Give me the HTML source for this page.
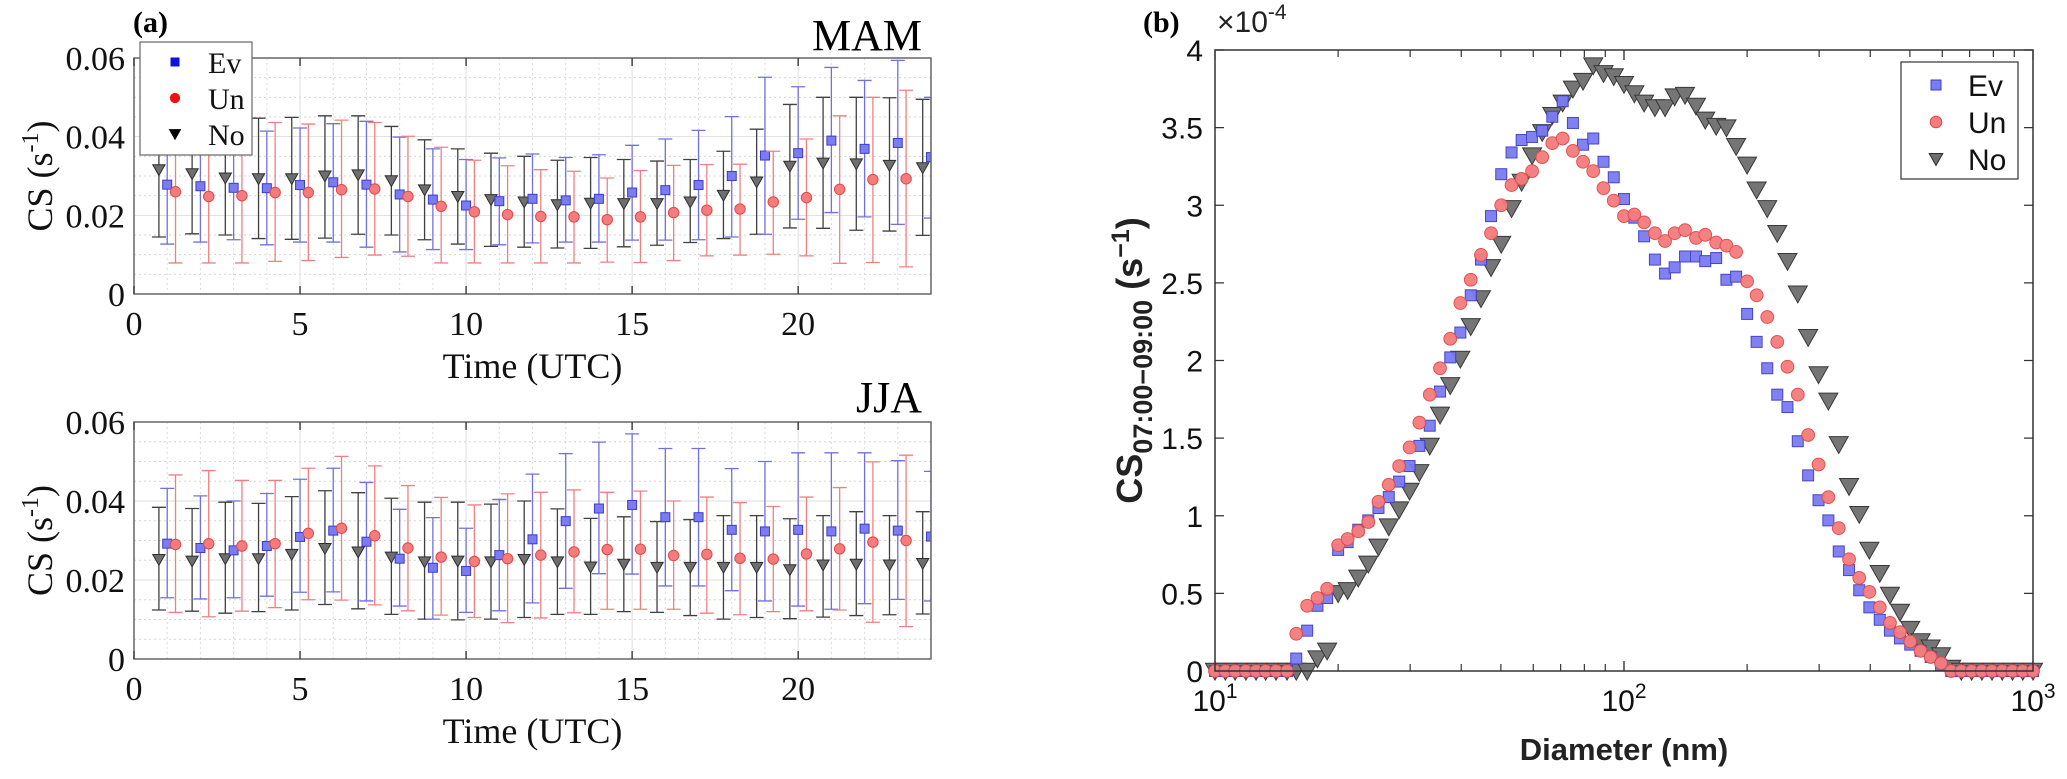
<!DOCTYPE html>
<html><head><meta charset="utf-8"><style>
html,body{margin:0;padding:0;background:#fff;}
svg{display:block;}
.ser{font-family:"Liberation Serif",serif;}
.san{font-family:"Liberation Sans",sans-serif;}
</style></head>
<body>
<svg id="fig" width="2067" height="779" viewBox="0 0 2067 779" xmlns="http://www.w3.org/2000/svg">
<text x="133" y="32" class="ser" font-size="30" font-weight="bold">(a)</text>
<text x="1143" y="32" class="ser" font-size="30" font-weight="bold">(b)</text>
<text x="922" y="50" class="ser" font-size="44" text-anchor="end">MAM</text>
<text x="922" y="412" class="ser" font-size="44" text-anchor="end">JJA</text>
<g id="pa1"></g>
<g id="pa2"></g>
<g id="pb"></g>
</svg>
<script>
// ---------- Panel (a) data ----------
const hours = [1,2,3,4,5,6,7,8,9,10,11,12,13,14,15,16,17,18,19,20,21,22,23,24];
const yTicksA = [0, 0.02, 0.04, 0.06];
const yTickLabelsA = ["0", "0.02", "0.04", "0.06"];
const xTicksA = [0, 5, 10, 15, 20];
// MAM
const mamEv   = [0.0278,0.0274,0.027,0.0269,0.0277,0.0284,0.0278,0.0253,0.024,0.0225,0.0236,0.0242,0.0238,0.0242,0.0258,0.0264,0.0277,0.030,0.0352,0.0358,0.039,0.0369,0.0384,0.0348];
const mamEvLo = [0.0127,0.0132,0.0138,0.0125,0.0132,0.0132,0.0119,0.0107,0.0113,0.0113,0.0125,0.013,0.0132,0.0132,0.0137,0.0137,0.0138,0.0145,0.0152,0.019,0.0207,0.0196,0.0177,0.0193];
const mamEvHi = [0.043,0.042,0.041,0.0414,0.0422,0.0433,0.0439,0.0399,0.0369,0.0342,0.0346,0.0356,0.0347,0.0354,0.0378,0.0394,0.0416,0.0451,0.0551,0.0527,0.0576,0.0543,0.0594,0.050];
const mamUn   = [0.026,0.0248,0.025,0.0258,0.0258,0.0265,0.0267,0.0248,0.0223,0.0209,0.0202,0.0197,0.0196,0.0189,0.0196,0.0207,0.0213,0.0216,0.0234,0.0245,0.0266,0.0291,0.0293,null];
const mamUnLo = [0.0079,0.0079,0.0079,0.0083,0.0085,0.0093,0.0099,0.0096,0.0079,0.0079,0.0079,0.0079,0.0079,0.0081,0.008,0.0085,0.0097,0.0099,0.0101,0.0097,0.0078,0.008,0.0069,null];
const mamUnHi = [0.044,0.044,0.044,0.0436,0.0432,0.0442,0.0436,0.0401,0.0373,0.034,0.0326,0.0316,0.0312,0.0295,0.0314,0.0327,0.0329,0.033,0.0363,0.0394,0.0453,0.050,0.0518,null];
const mamNo   = [0.0316,0.0306,0.0295,0.0293,0.0293,0.030,0.0303,0.0288,0.0265,0.0248,0.024,0.0234,0.0227,0.0231,0.023,0.023,0.0234,0.0251,0.0285,0.0325,0.0333,0.0331,0.0327,0.0321];
const mamNoLo = [0.0145,0.0153,0.015,0.0141,0.0139,0.0142,0.0152,0.015,0.0138,0.0127,0.0121,0.0119,0.0117,0.0116,0.012,0.0124,0.0131,0.0141,0.0152,0.0168,0.0167,0.0162,0.016,0.0149];
const mamNoHi = [0.045,0.045,0.045,0.0447,0.0449,0.0453,0.0453,0.0426,0.0392,0.0369,0.0358,0.035,0.034,0.0347,0.0342,0.0338,0.0342,0.0363,0.0419,0.0482,0.050,0.050,0.0499,0.0495];
// JJA
const jjaEv   = [0.0292,0.0281,0.0275,0.0286,0.0309,0.0325,0.0297,0.0254,0.0231,0.0223,0.0263,0.0303,0.0349,0.0381,0.039,0.0359,0.0359,0.0327,0.0323,0.0327,0.0323,0.033,0.0325,0.031];
const jjaEvLo = [0.0155,0.0152,0.0155,0.0159,0.0169,0.017,0.0147,0.0134,0.0101,0.0118,0.0122,0.0142,0.0179,0.0216,0.0215,0.0185,0.0185,0.0173,0.0147,0.0134,0.0126,0.014,0.0151,0.0147];
const jjaEvHi = [0.0432,0.0413,0.040,0.0419,0.0455,0.0483,0.0447,0.0379,0.0358,0.0331,0.0404,0.0468,0.052,0.0549,0.057,0.0533,0.0533,0.0482,0.050,0.0522,0.0522,0.0522,0.0502,0.0475];
const jjaUn   = [0.029,0.0292,0.0286,0.0292,0.0318,0.0331,0.0312,0.0281,0.0258,0.0247,0.0254,0.0263,0.0271,0.0277,0.0278,0.0262,0.0265,0.0255,0.0253,0.0266,0.0279,0.0296,0.030,null];
const jjaUnLo = [0.0118,0.0107,0.0121,0.013,0.015,0.0149,0.0137,0.0122,0.0111,0.0105,0.0092,0.0104,0.0117,0.0126,0.0126,0.0126,0.0116,0.0112,0.012,0.0122,0.0124,0.0093,0.0082,null];
const jjaUnHi = [0.0466,0.0477,0.0452,0.0452,0.0483,0.0513,0.0489,0.0439,0.0409,0.039,0.0418,0.0422,0.0428,0.0422,0.0425,0.040,0.041,0.0396,0.0386,0.041,0.0434,0.0499,0.0516,null];
const jjaNo   = [0.0252,0.0248,0.0254,0.0254,0.0265,0.028,0.0271,0.0258,0.0246,0.0248,0.0246,0.0252,0.0246,0.0233,0.024,0.0232,0.0232,0.0232,0.0232,0.0226,0.0238,0.024,0.0238,0.0242];
const jjaNoLo = [0.0124,0.0121,0.0116,0.012,0.0124,0.0138,0.0127,0.0113,0.0101,0.0099,0.0101,0.0105,0.0113,0.0113,0.012,0.0118,0.011,0.0101,0.0105,0.0102,0.0106,0.011,0.0112,0.0114];
const jjaNoHi = [0.0384,0.0381,0.0397,0.0394,0.0411,0.0426,0.0421,0.0407,0.0397,0.0397,0.0392,0.040,0.038,0.0356,0.036,0.0348,0.0353,0.0363,0.0363,0.0355,0.0363,0.0373,0.0363,0.0373];

// ---------- Panel (b) data ----------
const diam = [10.0,10.6,11.2,11.9,12.6,13.3,14.1,15.0,15.8,16.8,17.8,18.8,20.0,21.1,22.4,23.7,25.1,26.6,28.2,29.9,31.6,33.5,35.5,37.6,39.8,42.2,44.7,47.3,50.1,53.1,56.2,59.6,63.1,66.8,70.8,75.0,79.4,84.1,89.1,94.4,100,106,112,119,126,133,141,150,158,168,178,188,200,211,224,237,251,266,282,299,316,335,355,376,398,422,447,473,501,531,562,596,631,668,708,750,794,841,891,944,1000];
const csEv = [0,0,0,0,0,0,0,0,0.08,0.26,0.42,0.47,0.78,0.83,0.91,0.97,1.05,1.12,1.22,1.32,1.45,1.58,1.80,2.02,2.18,2.42,2.65,2.93,3.2,3.34,3.42,3.44,3.48,3.57,3.67,3.53,3.39,3.43,3.28,3.18,3.04,2.92,2.80,2.65,2.56,2.60,2.67,2.67,2.64,2.66,2.52,2.54,2.30,2.12,1.95,1.78,1.70,1.48,1.26,1.10,0.97,0.77,0.65,0.52,0.41,0.33,0.26,0.21,0.17,0.13,0.09,0.04,0,0,0,0,0,0,0,0,0];
const csUn = [0,0,0,0,0,0,0,0,0.24,0.42,0.47,0.53,0.81,0.85,0.90,0.96,1.09,1.20,1.32,1.44,1.60,1.78,1.95,2.14,2.37,2.52,2.68,2.82,3.0,3.13,3.17,3.22,3.31,3.40,3.43,3.35,3.28,3.22,3.11,3.03,2.93,2.94,2.89,2.82,2.77,2.82,2.84,2.79,2.81,2.76,2.74,2.70,2.51,2.42,2.28,2.12,1.96,1.78,1.52,1.33,1.12,0.92,0.72,0.60,0.51,0.41,0.31,0.25,0.19,0.13,0.09,0.05,0,0,0,0,0,0,0,0,0];
const csNo = [0,0,0,0,0,0,0,0,0,0,0.08,0.13,0.50,0.52,0.60,0.69,0.80,0.93,1.04,1.16,1.28,1.45,1.65,1.84,2.01,2.22,2.40,2.60,2.75,2.98,3.15,3.32,3.47,3.58,3.66,3.75,3.80,3.90,3.85,3.83,3.78,3.72,3.66,3.63,3.63,3.70,3.71,3.64,3.55,3.51,3.50,3.38,3.26,3.10,2.98,2.82,2.64,2.43,2.15,1.91,1.74,1.46,1.19,1.01,0.78,0.63,0.49,0.38,0.27,0.19,0.15,0.10,0.02,0,0,0,0,0,0,0,0];
const yTicksB = [0,0.5,1,1.5,2,2.5,3,3.5,4];
const yTickLabelsB = ["0","0.5","1","1.5","2","2.5","3","3.5","4"];
const xTicksB = [10,100,1000];
const xTickExpB = ["1","2","3"];

const NS = "http://www.w3.org/2000/svg";
function mk(tag, attrs, parent){
  const e = document.createElementNS(NS, tag);
  for (const k in attrs) e.setAttribute(k, attrs[k]);
  parent.appendChild(e);
  return e;
}
const COL = {
  ev:{fill:"#7b7bf2", stroke:"#3c3cc8", bar:"#7070e0"},
  un:{fill:"#f57c7c", stroke:"#e04848", bar:"#f08080"},
  no:{fill:"#6e6e6e", stroke:"#2e2e2e", bar:"#404040"}
};
function marker(g, type, x, y, s, col){
  let e;
  if (type === "ev") e = mk("rect", {x:x-s/2, y:y-s/2, width:s, height:s, fill:col.fill, stroke:col.stroke, "stroke-width":1}, g);
  else if (type === "un") e = mk("circle", {cx:x, cy:y, r:s*0.58, fill:col.fill, stroke:col.stroke, "stroke-width":1}, g);
  else e = mk("polygon", {points:`${x-s*0.68},${y-s*0.55} ${x+s*0.68},${y-s*0.55} ${x},${y+s*0.65}`, fill:col.fill, stroke:col.stroke, "stroke-width":1}, g);
  return e;
}

// ---------- Panel (a) ----------
function panelA(gid, T, B, series, name){
  const g = document.getElementById(gid);
  const L = 134, R = 931;
  const xs = h => L + (h/24)*(R-L);
  const ys = v => B - (v/0.06)*(B-T);
  for (let v=0.005; v<0.06; v+=0.005){
    const major = Math.abs((v/0.02) - Math.round(v/0.02)) < 1e-6;
    const l = mk("line", {x1:L, x2:R, y1:ys(v), y2:ys(v), stroke: major?"#dedede":"#d6d6d6", "stroke-width":1, "stroke-dasharray": major?"":"2,3"}, g);
    
    
  }
  for (let h=1; h<24; h++){
    const major = h%5===0;
    const l = mk("line", {x1:xs(h), x2:xs(h), y1:T, y2:B, stroke: major?"#dedede":"#dcdcdc", "stroke-width":1, "stroke-dasharray": major?"":"2,3"}, g);
    
    
  }
  const offs = {no:-0.25, ev:0, un:0.25};
  const clip = "clip-"+gid;
  const cp = mk("clipPath", {id:clip}, g);
  mk("rect", {x:L, y:T-20, width:R-L, height:B-T+40}, cp);
  const sg = mk("g", {"clip-path":`url(#${clip})`}, g);
  
  
  ["no","ev","un"].forEach(k=>{
    const [m, lo, hi] = series[k];
    const col = COL[k];
    hours.forEach((h,i)=>{
      if (m[i]===null) return;
      const x = xs(h+offs[k]);
      const eb = mk("path", {d:`M${x},${ys(lo[i])}V${ys(hi[i])}M${x-7},${ys(lo[i])}H${x+7}M${x-7},${ys(hi[i])}H${x+7}`, stroke:col.bar, "stroke-width":1.3, fill:"none"}, sg);
      
      
    });
    hours.forEach((h,i)=>{
      if (m[i]===null) return;
      const e = marker(sg, k, xs(h+offs[k]), ys(m[i]), 9, col);
      
      
    });
  });
  const box = mk("rect", {x:L, y:T, width:R-L, height:B-T, fill:"none", stroke:"#666", "stroke-width":1.5}, g);
  
  
  xTicksA.forEach(t=>{
    const tk = mk("path", {d:`M${xs(t)},${B}v-8M${xs(t)},${T}v8`, stroke:"#444", "stroke-width":1.5}, g);
    
    
    const tl = mk("text", {x:xs(t), y:B+41, "text-anchor":"middle", class:"ser", "font-size":34, fill:"#111"}, g);
    tl.textContent = t;
    
    
  });
  yTicksA.forEach((t,i)=>{
    const tl = mk("text", {x:L-9, y:ys(t)+12, "text-anchor":"end", class:"ser", "font-size":34, fill:"#111"}, g);
    tl.textContent = yTickLabelsA[i];
    
    
  });
  const xt = mk("text", {x:(L+R)/2, y:B+84, "text-anchor":"middle", class:"ser", "font-size":36, fill:"#111"}, g);
  xt.textContent = "Time (UTC)";
  
  
  const cy = (T+B)/2;
  const yt = mk("text", {x:0, y:0, transform:`translate(52,${cy}) rotate(-90)`, "text-anchor":"middle", class:"ser", "font-size":36, fill:"#111"}, g);
  yt.innerHTML = 'CS (s<tspan dy="-14" font-size="24">-1</tspan><tspan dy="14">)</tspan>';
  
  
}
panelA("pa1", 58, 294, {ev:[mamEv,mamEvLo,mamEvHi], un:[mamUn,mamUnLo,mamUnHi], no:[mamNo,mamNoLo,mamNoHi]}, "mam");
panelA("pa2", 422, 659, {ev:[jjaEv,jjaEvLo,jjaEvHi], un:[jjaUn,jjaUnLo,jjaUnHi], no:[jjaNo,jjaNoLo,jjaNoHi]}, "jja");

(function(){
  const g = document.getElementById("pa1");
  const lg = mk("g", {}, g);
  
  
  mk("rect", {x:140, y:42, width:112, height:113, fill:"#fff", stroke:"#666", "stroke-width":1.2}, lg);
  [["ev","Ev",62],["un","Un",98],["no","No",134]].forEach(([k,lab,y])=>{
    const c = {fill: k==="ev"?"#1010e0":k==="un"?"#f01010":"#000", stroke: k==="ev"?"#1010e0":k==="un"?"#f01010":"#000"};
    const m = marker(lg, k, 175, y, 8, c);
    
    
    const t = mk("text", {x:208, y:y+11, class:"ser", "font-size":30, fill:"#111"}, lg);
    t.textContent = lab;
    
    
  });
})();

// ---------- Panel (b) ----------
(function(){
  const g = document.getElementById("pb");
  const L = 1215, R = 2033, T = 50, B = 671;
  const xs = d => L + (Math.log10(d)-1)/2*(R-L);
  const ys = v => B - (v/4)*(B-T);
  for (let dec=10; dec<=100; dec*=10){
    for (let k=1; k<=10; k++){
      const dd = dec*k;
      const x = xs(dd);
      const len = (k===1||k===10)?10:7;
      const tk = mk("path", {d:`M${x},${B}v-${len}M${x},${T}v${len}`, stroke:"#333", "stroke-width":1.2}, g);
      
      
    }
  }
  yTicksB.forEach((t,i)=>{
    const tk = mk("path", {d:`M${L},${ys(t)}h9M${R},${ys(t)}h-9`, stroke:"#333", "stroke-width":1.2}, g);
    
    
    const tl = mk("text", {x:L-12, y:ys(t)+11, "text-anchor":"end", class:"san", "font-size":30, fill:"#111"}, g);
    tl.textContent = yTickLabelsB[i];
    
    
  });
  xTicksB.forEach((t,i)=>{
    const tl = mk("text", {x:xs(t), y:B+40, "text-anchor":"middle", class:"san", "font-size":30, fill:"#111"}, g);
    tl.innerHTML = '10<tspan dy="-13" font-size="21">'+xTickExpB[i]+'</tspan>';
    
    
  });
  const ex = mk("text", {x:L+2, y:T-18, class:"san", "font-size":30, fill:"#222"}, g);
  ex.innerHTML = '×10<tspan dy="-13" font-size="21">-4</tspan>';
  
  
  [["no",csNo,14],["ev",csEv,11],["un",csUn,11]].forEach(([k,arr,s])=>{
    const sg = mk("g", {opacity:0.95}, g);
    
    
    diam.forEach((d,i)=>{
      const e = marker(sg, k, xs(d), ys(arr[i]), s, COL[k]);
      
      
    });
  });
  const box = mk("rect", {x:L, y:T, width:R-L, height:B-T, fill:"none", stroke:"#333", "stroke-width":1.5}, g);
  
  
  const xt = mk("text", {x:(L+R)/2, y:760, "text-anchor":"middle", class:"san", "font-size":31, "font-weight":"bold", fill:"#222"}, g);
  xt.textContent = "Diameter (nm)";
  
  
  const yt = mk("text", {x:0, y:0, transform:`translate(1142,${(T+B)/2}) rotate(-90)`, "text-anchor":"middle", class:"san", "font-size":36, "font-weight":"bold", fill:"#222"}, g);
  yt.innerHTML = 'CS<tspan dy="10" font-size="27">07:00−09:00</tspan><tspan dy="-10"> (s</tspan><tspan dy="-13" font-size="25">−1</tspan><tspan dy="13">)</tspan>';
  
  
  const lg = mk("g", {}, g);
  
  
  mk("rect", {x:1901, y:62, width:117, height:117, fill:"#fff", stroke:"#333", "stroke-width":1.2}, lg);
  [["ev","Ev",85],["un","Un",122],["no","No",159]].forEach(([k,lab,y])=>{
    const m = marker(lg, k, 1936, y, 10, COL[k]);
    
    
    const t = mk("text", {x:1968, y:y+11, class:"san", "font-size":30, fill:"#111"}, lg);
    t.textContent = lab;
    
    
  });
})();
</script>
</body></html>
